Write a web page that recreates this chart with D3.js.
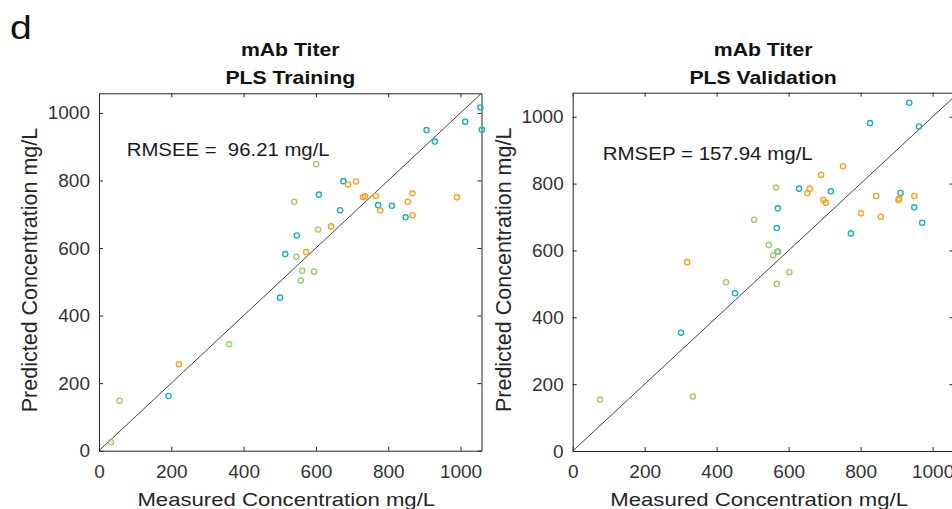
<!DOCTYPE html>
<html>
<head>
<meta charset="utf-8">
<script src="https://cdn.jsdelivr.net/npm/d3@7"></script>
<style>
  html, body { margin: 0; padding: 0; background: #fff; }
  svg { display: block; font-family: "Liberation Sans", Arial, Helvetica, sans-serif; }
</style>
</head>
<body>
<svg id="chart" width="952" height="509"></svg>
<script>
// Axis ticks shared by both panels (mg/L)
const tickValues = [0, 200, 400, 600, 800, 1000];

// PLS training set: measured vs predicted mAb titer (mg/L), three batch groups
const trainTealMeasured  = [1055, 1013, 1059, 906, 929, 676, 608, 667, 772, 810, 848, 547, 515, 501, 192];
const trainTealPredicted = [1016, 974, 950, 949, 915, 798, 758, 712, 727, 725, 691, 637, 582, 453, 162];
const trainOrangeMeasured  = [711, 689, 730, 736, 766, 867, 854, 990, 778, 867, 642, 573, 221];
const trainOrangePredicted = [797, 788, 751, 753, 754, 762, 737, 750, 711, 697, 664, 588, 256];
const trainGreenMeasured  = [601, 540, 606, 546, 562, 595, 558, 360, 57, 33];
const trainGreenPredicted = [848, 737, 655, 574, 533, 530, 504, 315, 148, 25];

// PLS validation set
const validTealMeasured  = [935, 826, 962, 629, 717, 911, 570, 949, 971, 773, 567, 569, 451, 301];
const validTealPredicted = [1042, 981, 971, 785, 777, 772, 726, 729, 683, 651, 667, 596, 472, 354];
const validOrangeMeasured  = [751, 690, 659, 652, 697, 703, 843, 905, 907, 949, 801, 856, 318];
const validOrangePredicted = [852, 826, 785, 771, 751, 743, 763, 751, 755, 763, 711, 701, 565];
const validGreenMeasured  = [565, 504, 545, 571, 557, 602, 426, 567, 334, 76];
const validGreenPredicted = [788, 692, 616, 597, 585, 535, 505, 500, 163, 154];

// Error summaries printed inside each panel
const trainError = "RMSEE =  96.21 mg/L";
const validError = "RMSEP = 157.94 mg/L";

const colors = { teal: "#18b0c6", orange: "#f8a21c", green: "#9dd063" };

const svg = d3.select("#chart");
const axisColor = "#262626";

const zip = (xs, ys) => xs.map((v, i) => [v, ys[i]]);

// Text helper: optional horizontal widening and rotation
function label(parent, x, y, str, opt) {
  let tf = `translate(${x},${y})`;
  if (opt.rotate) tf += ` rotate(${opt.rotate})`;
  if (opt.sx) tf += ` scale(${opt.sx},1)`;
  return parent.append("text")
    .attr("transform", tf)
    .attr("text-anchor", opt.anchor || "start")
    .attr("font-size", opt.size)
    .attr("font-weight", opt.weight || "normal")
    .attr("fill", opt.fill || axisColor)
    .style("white-space", "pre")
    .text(str);
}

function drawPanel(cfg) {
  const g = svg.append("g");
  const x = d3.scaleLinear().domain([0, cfg.xMax]).range([cfg.left, cfg.right]);
  const y = d3.scaleLinear().domain([0, cfg.yMax]).range([cfg.bottom, cfg.top]);
  const plain = d => String(d);

  const styleAxis = sel => {
    sel.selectAll("path.domain").attr("stroke", axisColor).attr("stroke-width", 1);
    sel.selectAll(".tick line").attr("stroke", axisColor).attr("stroke-width", 1);
    sel.selectAll(".tick text")
      .attr("fill", "#333")
      .attr("font-size", 19)
      .attr("font-family", "'Liberation Sans', Arial, sans-serif");
  };

  g.append("g").attr("transform", `translate(0,${cfg.bottom})`)
    .call(d3.axisBottom(x).tickValues(tickValues).tickFormat(plain)
      .tickSizeInner(-4).tickSizeOuter(0).tickPadding(14))
    .call(styleAxis);
  g.append("g").attr("transform", `translate(0,${cfg.top})`)
    .call(d3.axisTop(x).tickValues(tickValues).tickSizeInner(-4).tickSizeOuter(0).tickFormat(() => ""))
    .call(styleAxis);
  g.append("g").attr("transform", `translate(${cfg.left},0)`)
    .call(d3.axisLeft(y).tickValues(tickValues).tickFormat(plain)
      .tickSizeInner(-4).tickSizeOuter(0).tickPadding(9))
    .call(styleAxis);
  g.append("g").attr("transform", `translate(${cfg.right},0)`)
    .call(d3.axisRight(y).tickValues(tickValues).tickSizeInner(-4).tickSizeOuter(0).tickFormat(() => ""))
    .call(styleAxis);

  // y = x reference line, clipped to the axes box
  const clipId = "clip-" + cfg.id;
  g.append("clipPath").attr("id", clipId).append("rect")
    .attr("x", cfg.left).attr("y", cfg.top)
    .attr("width", cfg.right - cfg.left).attr("height", cfg.bottom - cfg.top);
  const lim = Math.max(cfg.xMax, cfg.yMax);
  g.append("line")
    .attr("clip-path", `url(#${clipId})`)
    .attr("x1", x(0)).attr("y1", y(0))
    .attr("x2", x(lim)).attr("y2", y(lim))
    .attr("stroke", "#444").attr("stroke-width", 1);

  // scatter groups
  cfg.series.forEach(s => {
    g.append("g").selectAll("circle").data(s.points).join("circle")
      .attr("cx", d => x(d[0]))
      .attr("cy", d => y(d[1]))
      .attr("r", 2.6)
      .attr("fill", "none")
      .attr("stroke", s.color)
      .attr("stroke-width", 1.4);
  });

  const cx = (cfg.left + cfg.right) / 2;
  label(g, cx, 56, "mAb Titer", { size: 18, weight: "bold", anchor: "middle", sx: 1.18, fill: "#111" });
  label(g, cx, 84, cfg.title, { size: 18, weight: "bold", anchor: "middle", sx: 1.18, fill: "#111" });
  label(g, cx - 4, 506, "Measured Concentration mg/L", { size: 18.6, anchor: "middle", sx: 1.19 });
  label(g, cfg.left - 62, (cfg.top + cfg.bottom) / 2 - 2, "Predicted Concentration mg/L",
        { size: 21.5, anchor: "middle", rotate: -90 });
  label(g, cfg.noteX, cfg.noteY, cfg.note, { size: 18.5, sx: cfg.noteSx, fill: "#1a1a1a" });
}

label(svg, 10, 39, "d", { size: 34, sx: 1.15, fill: "#111" });

drawPanel({
  id: "train", title: "PLS Training",
  left: 99, right: 481.5, top: 93.3, bottom: 450.7,
  xMax: 1058, yMax: 1058,
  note: trainError, noteX: 126.7, noteY: 156, noteSx: 1.1,
  series: [
    { color: colors.teal, points: zip(trainTealMeasured, trainTealPredicted) },
    { color: colors.orange, points: zip(trainOrangeMeasured, trainOrangePredicted) },
    { color: colors.green, points: zip(trainGreenMeasured, trainGreenPredicted) }
  ]
});

drawPanel({
  id: "valid", title: "PLS Validation",
  left: 572.7, right: 953.5, top: 92.7, bottom: 451,
  xMax: 1058, yMax: 1072,
  note: validError, noteX: 602.7, noteY: 160, noteSx: 1.11,
  series: [
    { color: colors.teal, points: zip(validTealMeasured, validTealPredicted) },
    { color: colors.orange, points: zip(validOrangeMeasured, validOrangePredicted) },
    { color: colors.green, points: zip(validGreenMeasured, validGreenPredicted) }
  ]
});
</script>
</body>
</html>
